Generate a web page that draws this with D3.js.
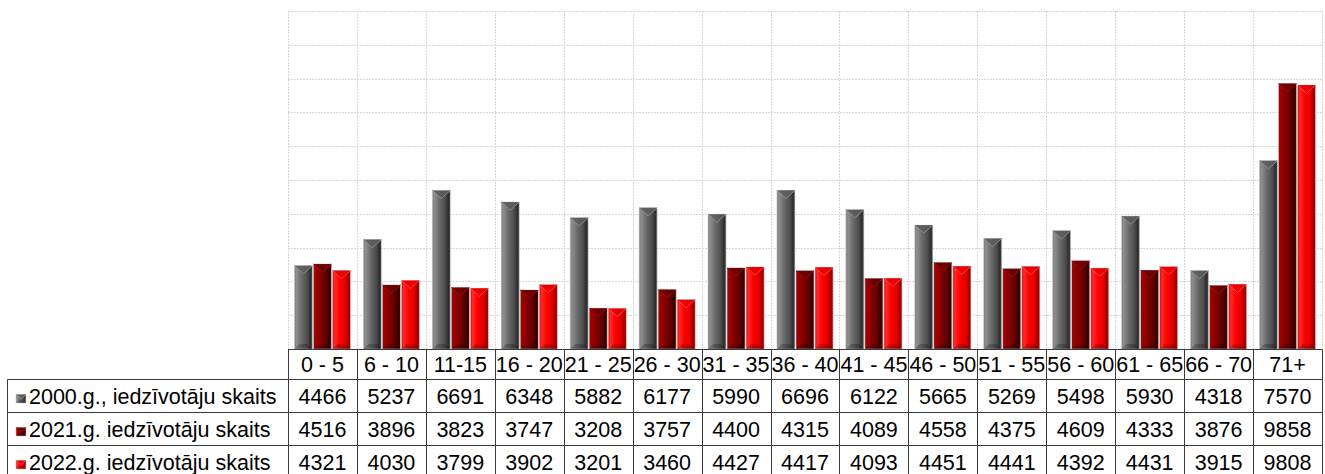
<!DOCTYPE html>
<html><head><meta charset="utf-8">
<script src="https://cdn.jsdelivr.net/npm/d3@7"></script>
<style>body{margin:0;background:#fff}svg{display:block}text{font-family:"Liberation Sans",Arial,sans-serif}</style>
</head><body><svg id="c" width="1325" height="474"></svg>
<script>
const categories = ["0 - 5","6 - 10","11-15","16 - 20","21 - 25","26 - 30","31 - 35","36 - 40","41 - 45","46 - 50","51 - 55","56 - 60","61 - 65","66 - 70","71+"];
const seriesNames = ["2000.g., iedzīvotāju skaits","2021.g. iedzīvotāju skaits","2022.g. iedzīvotāju skaits"];
const values2000 = [4466,5237,6691,6348,5882,6177,5990,6696,6122,5665,5269,5498,5930,4318,7570];
const values2021 = [4516,3896,3823,3747,3208,3757,4400,4315,4089,4558,4375,4609,4333,3876,9858];
const values2022 = [4321,4030,3799,3902,3201,3460,4427,4417,4093,4451,4441,4392,4431,3915,9808];
const yTicks = [2000,3000,4000,5000,6000,7000,8000,9000,10000,11000,12000];
const seriesValues = [values2000, values2021, values2022];

const svg = d3.select("#c");
const L = 288, R = 1322, TOP = 11, BASE = 349;
const x = d3.scaleBand().domain(categories).range([L, R]).paddingInner(0).paddingOuter(0);
const xs = d3.scaleBand().domain(d3.range(3)).range([0, x.bandwidth()]).paddingInner(0).paddingOuter(0.31);
const y = d3.scaleLinear().domain([2000, 12000]).range([BASE, TOP]);

const defs = svg.append("defs");
const grads = [
  [["0%","#7c7c7c"],["12%","#8e8e8e"],["40%","#6a6a6a"],["72%","#4c4c4c"],["90%","#2c2c2c"],["100%","#555"]],
  [["0%","#8a0a0a"],["12%","#a00000"],["40%","#820000"],["72%","#5a0000"],["90%","#330000"],["100%","#600000"]],
  [["0%","#e00000"],["12%","#ff2a2a"],["40%","#ff0000"],["72%","#e00000"],["90%","#9a0000"],["100%","#c80000"]]
];
grads.forEach((st, i) => {
  const g = defs.append("linearGradient").attr("id", "g" + i).attr("x1", "0").attr("x2", "1").attr("y1", "0").attr("y2", "0");
  st.forEach(s => g.append("stop").attr("offset", s[0]).attr("stop-color", s[1]));
});

const grid = svg.append("g").attr("stroke", "#d8d8d8").attr("stroke-dasharray", "2,1").attr("stroke-width", 1);
grid.selectAll("line.h").data(yTicks.slice(1)).join("line")
  .attr("x1", L).attr("x2", R).attr("y1", d => Math.round(y(d)) + 0.5).attr("y2", d => Math.round(y(d)) + 0.5);
const bounds = categories.map(c => x(c)).concat([R]);
grid.selectAll("line.v").data(bounds).join("line")
  .attr("x1", d => Math.round(d) + 0.5).attr("x2", d => Math.round(d) + 0.5).attr("y1", TOP).attr("y2", BASE);

function bevelBar(g, bx, by, w, h, i) {
  g.append("rect").attr("x", bx).attr("y", by).attr("width", w).attr("height", h)
    .attr("fill", `url(#g${i})`).attr("stroke", "#d0c8c8").attr("stroke-width", 0.6);
  const d = Math.min(w * 0.45, h / 2);
  g.append("polygon").attr("points", `${bx},${by} ${bx + w},${by} ${bx + w / 2},${by + d}`)
    .attr("fill", i === 0 ? "#5c5c5c" : (i === 1 ? "#6a0000" : "#e80000")).attr("opacity", 0.85);
  g.append("polyline").attr("points", `${bx},${by} ${bx + w / 2},${by + d} ${bx + w},${by}`)
    .attr("fill", "none").attr("stroke", i === 0 ? "#9a9a9a" : (i === 1 ? "#a01010" : "#ff5050")).attr("stroke-width", 0.8);
  const bd = Math.min(5, h / 3);
  g.append("polygon").attr("points", `${bx},${by + h} ${bx + w},${by + h} ${bx + w - bd},${by + h - bd} ${bx + bd},${by + h - bd}`)
    .attr("fill", "#000").attr("opacity", 0.22);
}

const bars = svg.append("g");
categories.forEach((c, ci) => {
  seriesValues.forEach((vals, si) => {
    const bx = x(c) + xs(si) + 0.5;
    const w = xs.bandwidth() - 1;
    const top = y(vals[ci]);
    bevelBar(bars, bx, top, w, BASE - top, si);
  });
});

const rows = [349.5, 379.5, 412.5, 445.5, 479];
const TL = 7.5;
const tbl = svg.append("g").attr("stroke", "#3a3a3a").attr("stroke-width", 1);
tbl.append("line").attr("x1", L).attr("x2", R + 0.5).attr("y1", rows[0]).attr("y2", rows[0]);
[1, 2, 3].forEach(r => tbl.append("line").attr("x1", TL).attr("x2", R + 0.5).attr("y1", rows[r]).attr("y2", rows[r]));
tbl.append("line").attr("x1", TL).attr("x2", TL).attr("y1", rows[1]).attr("y2", 474);
tbl.selectAll("line.cv").data(bounds).join("line")
  .attr("x1", d => Math.round(d) + 0.5).attr("x2", d => Math.round(d) + 0.5).attr("y1", rows[0]).attr("y2", 474);

const txt = svg.append("g").attr("font-size", 21.5).attr("fill", "#000");
txt.selectAll("text.cat").data(categories).join("text")
  .attr("x", d => x(d) + x.bandwidth() / 2).attr("y", 371.5).attr("text-anchor", "middle").text(d => d);
seriesValues.forEach((vals, si) => {
  const base = rows[si + 1] + 24;
  txt.selectAll("text.v" + si).data(vals).join("text")
    .attr("x", (d, i) => x(categories[i]) + x.bandwidth() / 2).attr("y", base)
    .attr("text-anchor", "middle").text(d => d);
  txt.append("text").attr("x", 29).attr("y", base).text(seriesNames[si]);
  const lg = svg.append("g");
  bevelBar(lg, 16, base - 9, 10, 8.5, si);
});
</script></body></html>
